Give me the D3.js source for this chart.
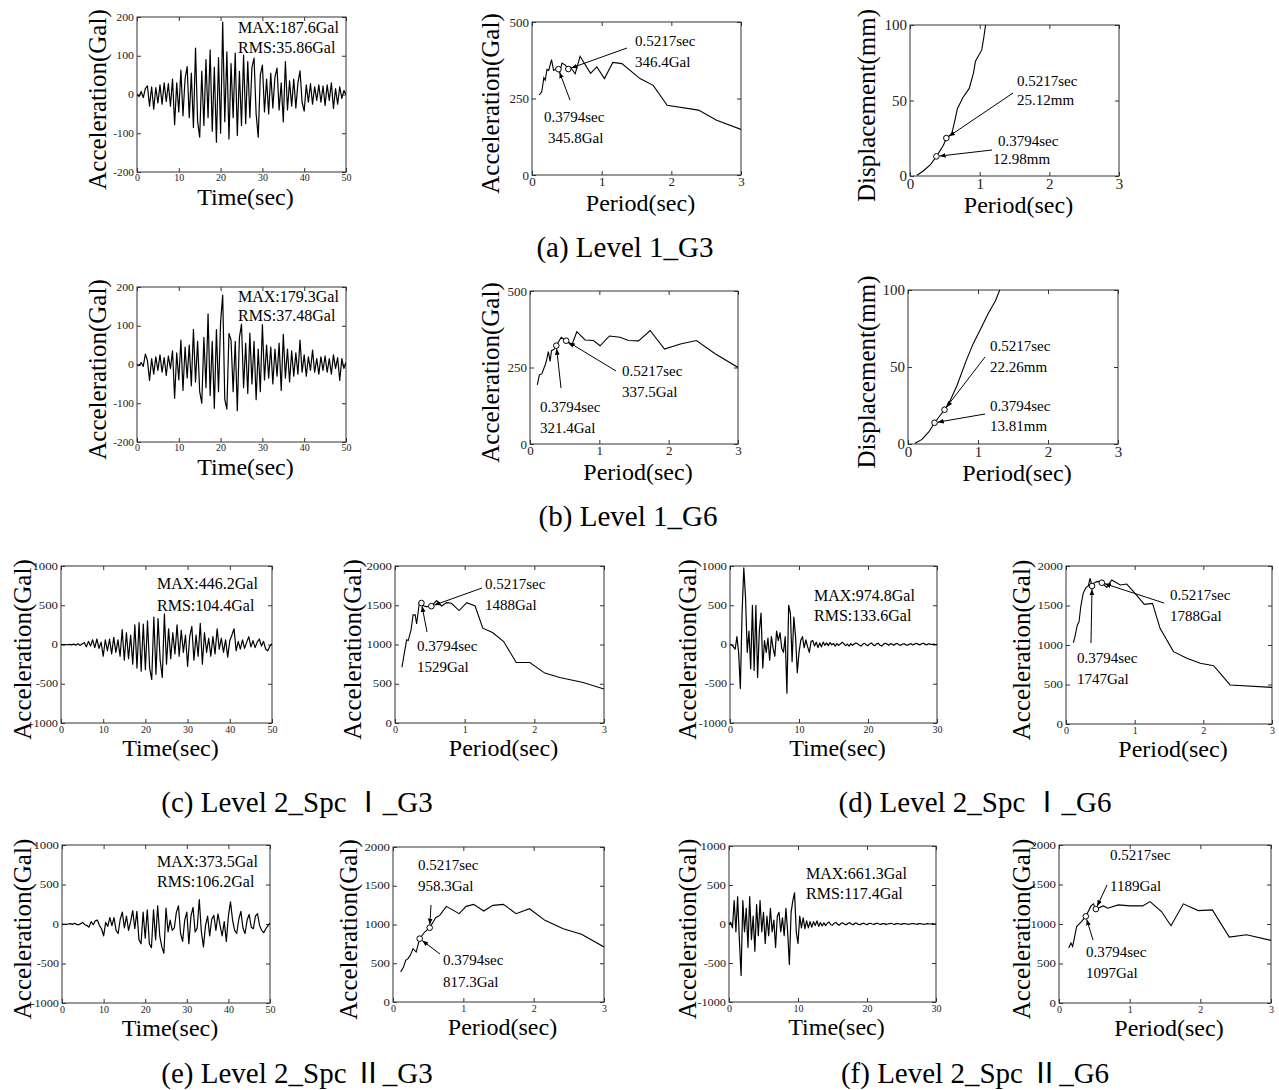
<!DOCTYPE html>
<meta charset="utf-8">
<style>
	body { margin: 0; background: #fff; }
	svg { display: block; font-family: "Liberation Serif", "Times New Roman", serif; }
	.frame { fill: none; stroke: #333; stroke-width: 1; }
	.axis line { stroke: #333; }
	.axis path { display: none; }
	.axis text { fill: #222; }
	.trace { fill: none; stroke: #000; stroke-width: 1.2; stroke-linejoin: round; }
	.spec { fill: none; stroke: #000; stroke-width: 1.1; }
	.pick { fill: #fff; stroke: #000; stroke-width: 1; }
	.lead { stroke: #000; stroke-width: 1; }
</style>
<body>
<script src="https://d3js.org/d3.v7.min.js"></script>
<script>
	// tick labels
	var ticksT50 = [0, 10, 20, 30, 40, 50];
	var ticksT30 = [0, 10, 20, 30];
	var ticksPeriod = [0, 1, 2, 3];
	var ticksAcc200 = [-200, -100, 0, 100, 200];
	var ticksAcc1000 = [-1000, -500, 0, 500, 1000];
	var ticksSa500 = [0, 250, 500];
	var ticksSa2000 = [0, 500, 1000, 1500, 2000];
	var ticksDisp100 = [0, 50, 100];

	// acceleration records (Gal) at a fixed sample step
	var dtA = 0.5;
	var accA = [0,-5,8,-8,15,22,-30,20,-38,18,
		-22,25,-25,30,-18,28,-30,40,-78,30,
		-45,63,-55,40,72,-60,55,-85,120,-70,
		-110,60,-80,90,-60,115,-95,70,-123,95,
		-100,187,-70,110,-115,80,-60,107,-106,60,
		-80,102,-75,85,-60,70,94,-50,-110,50,
		76,-45,40,-50,55,-35,45,68,-40,30,
		-71,85,-40,35,-30,40,-35,30,61,-20,
		-43,25,-20,28,-25,20,-15,25,-20,22,
		-28,25,-15,30,-36,15,-25,20,-10,10,
		0];
	var dtB = 0.5;
	var accB = [0,-3,5,-5,27,10,-41,15,-25,20,
		-15,25,-20,18,-28,22,-10,35,-87,30,
		-40,63,-67,45,-35,50,-55,91,-45,60,
		-70,-100,70,-60,131,-80,60,-113,90,-70,
		110,179,-90,-115,80,63,-70,60,-119,70,
		104,-60,55,-75,81,-50,60,-91,40,-70,
		103,-40,50,-35,45,-50,40,-30,55,-67,
		78,-35,40,-45,35,-30,30,-25,63,-20,
		25,-30,20,-15,37,-20,15,-25,20,-15,
		22,-20,15,-25,25,-10,18,-41,15,-10,
		5];
	var dtC = 0.5;
	var accC = [0,-2,0,-3,2,-5,5,-8,10,-10,
		5,25,-30,40,-20,60,-40,70,-50,30,
		-150,60,-80,70,-120,90,-100,60,-150,190,
		-200,150,-180,120,-250,250,-300,280,-340,260,
		-320,300,-300,-446,350,-380,330,-200,-420,390,
		-250,200,-180,150,-120,250,-150,180,-100,120,
		-280,100,230,-200,120,-150,270,-250,150,-100,
		80,-150,100,-120,200,-60,80,-100,60,-160,
		50,120,200,-80,40,-60,60,-50,30,100,
		-30,50,-40,30,70,-20,40,-60,-80,-20,
		10];
	var dtD = 0.25;
	var accD = [0,-5,-30,-60,100,-100,-560,400,
		975,600,-100,170,-310,500,-330,500,
		-420,170,400,-300,50,-100,80,-200,
		100,-50,-150,170,50,150,-50,-100,
		100,-620,500,400,-220,350,100,-360,
		-100,50,100,-40,60,-30,-100,40,
		50,-20,30,-40,20,-30,30,-10,
		20,-15,25,-5,15,-20,10,-10,
		5,30,10,-15,5,-20,10,-10,
		5,20,10,-10,-20,5,15,-5,
		-15,10,20,-5,-15,10,15,-10,
		-20,5,15,5,-10,10,5,-10,
		10,15,-5,-10,5,10,-5,-10,
		5,10,-5,5,15,5,-5,10,
		15,5,-5,10,5,0,5,0,
		0];
	var dtE = 0.5;
	var accE = [0,-3,-5,0,5,-5,10,-5,-10,5,
		20,-10,-20,-40,30,-10,40,50,-20,-60,
		-150,20,-30,80,-20,80,-80,-120,60,150,
		-50,100,-80,30,170,-60,160,-200,-250,150,
		-180,180,-250,-300,180,-200,230,-150,-290,-370,
		200,-100,50,-80,-50,150,230,-120,-220,50,
		150,-250,100,210,-100,-50,310,-100,-290,-20,
		100,-150,60,110,-80,130,-20,-150,30,-220,
		100,280,50,-80,-120,60,160,-50,-120,50,
		120,-40,-60,100,130,-20,-80,-110,-60,-20,
		10];
	var dtF = 0.25;
	var accF = [0,20,-50,300,-100,350,-200,-660,
		300,-100,200,-300,350,-200,100,-350,
		250,-150,300,-100,150,-250,100,-150,
		200,-100,50,-300,100,150,-100,80,
		-150,200,-100,-520,150,300,400,-100,
		-250,100,-50,80,-60,40,-50,30,
		-40,30,-20,40,-30,20,-25,15,
		-20,10,25,-10,-15,10,20,-5,
		-15,10,15,-5,-10,10,15,0,
		-10,10,10,-5,-10,5,10,0,
		-10,5,10,0,-5,5,10,0,
		-5,5,5,-5,0,5,10,0,
		-5,5,5,0,-5,5,5,0,
		-5,0,5,5,0,-5,5,5,
		0,-5,0,5,0,0,5,0,
		0];

	var peakA = 187.6, rmsA = 35.86;
	var peakB = 179.3, rmsB = 37.48;
	var peakC = 446.2, rmsC = 104.4;
	var peakD = 974.8, rmsD = 133.6;
	var peakE = 373.5, rmsE = 106.2;
	var peakF = 661.3, rmsF = 117.4;

	// response spectra: period (sec) and value
	var perA = [0.1,0.12,0.14,0.17,0.19,0.215,0.24,0.28,0.31,0.36,0.3794,0.40,0.43,0.48,0.5217,0.55,0.62,0.69,0.84,0.93,1.04,1.16,1.29,1.55,1.74,1.94,2.39,2.65,3.0];
	var saA = [262,266,272,318,310,345,342,377,342,348,345.8,337,366,359,346.4,353,331,388,332,353,315,368,364,315,293,228,212,179,149];
	var perAd = [0.1,0.19,0.29,0.3794,0.48,0.5217,0.60,0.645,0.68,0.76,0.85,0.91,0.94,1.03,1.06,1.085,1.1];
	var dispA = [0.5,3.3,7.3,12.98,20.4,25.12,28,37,44.6,52,58,68,76,83.5,92,100,104];
	var perB = [0.106,0.135,0.17,0.22,0.24,0.265,0.29,0.31,0.35,0.3794,0.40,0.45,0.505,0.5217,0.55,0.60,0.675,0.795,0.915,1.01,1.146,1.30,1.42,1.565,1.733,1.94,2.17,2.40,2.67,3.0];
	var saB = [193,226,229,259,275,302,270,305,310,321.4,329,349,340,337.5,332,321,367,340,338,321,353,349,338,337,371,310,327,338,295,250];
	var perBd = [0.1,0.2,0.3,0.3794,0.45,0.5217,0.6,0.7,0.83,0.93,1.03,1.15,1.25,1.31,1.35];
	var dispB = [0.5,3,8,13.81,18,22.26,28,38,54,65,74,85,93,100,104];
	var perC = [0.1,0.134,0.167,0.19,0.23,0.26,0.29,0.31,0.35,0.3794,0.415,0.45,0.5217,0.597,0.67,0.74,0.81,0.92,1.03,1.15,1.26,1.40,1.56,1.74,1.935,2.15,2.365,2.70,3.0];
	var saC = [710,890,1059,1050,1186,1377,1377,1262,1533,1529,1491,1483,1488,1559,1491,1533,1525,1432,1533,1491,1208,1152,1038,771,771,636,580,517,432];
	var perD = [0.107,0.13,0.165,0.19,0.215,0.25,0.29,0.325,0.35,0.3794,0.40,0.45,0.495,0.5217,0.593,0.666,0.79,0.885,1.006,1.14,1.26,1.37,1.565,1.76,1.955,2.15,2.39,3.0];
	var saD = [1030,1105,1253,1295,1485,1654,1726,1747,1844,1747,1780,1802,1802,1788,1730,1823,1760,1772,1654,1515,1527,1211,916,831,768,738,494,464];
	var perE = [0.109,0.15,0.18,0.213,0.246,0.284,0.33,0.3794,0.45,0.5217,0.607,0.664,0.758,0.94,1.04,1.147,1.29,1.42,1.57,1.75,1.94,2.16,2.42,2.68,3.0];
	var saE = [387,452,538,559,602,688,645,817.3,903,958.3,1088,1118,1234,1140,1234,1260,1174,1247,1260,1140,1204,1054,946,873,710];
	var perF = [0.137,0.17,0.193,0.25,0.32,0.3794,0.453,0.486,0.5217,0.627,0.69,0.84,1.005,1.184,1.288,1.45,1.585,1.76,1.97,2.17,2.41,2.655,3.0];
	var saF = [695,758,716,968,1032,1097,1229,1255,1189,1229,1200,1242,1229,1229,1284,1158,977,1255,1170,1179,834,863,792];

	// picked points [period, value]
	var pickA = [[0.3794, 345.8], [0.5217, 346.4]];
	var pickAd = [[0.3794, 12.98], [0.5217, 25.12]];
	var pickB = [[0.3794, 321.4], [0.5217, 337.5]];
	var pickBd = [[0.3794, 13.81], [0.5217, 22.26]];
	var pickC = [[0.3794, 1529], [0.5217, 1488]];
	var pickD = [[0.3794, 1747], [0.5217, 1788]];
	var pickE = [[0.3794, 817.3], [0.5217, 958.3]];
	var pickF = [[0.3794, 1097], [0.5217, 1189]];

	var captions = ["(a) Level 1_G3", "(b) Level 1_G6", "(c) Level 2_Spc \u2160_G3",
		"(d) Level 2_Spc \u2160_G6", "(e) Level 2_Spc \u2161_G3", "(f) Level 2_Spc \u2161_G6"];

	var accTitle = "Acceleration(Gal)", dispTitle = "Displacement(mm)";

	var panels = [
		{ box: [137, 17, 346, 172], x: [0, 50], y: [-200, 200], xt: ticksT50, yt: ticksAcc200, dt: dtA, acc: accA,
			xTitle: "Time(sec)", yTitle: accTitle, yTitleX: 97, font: 10, yW: 5.9, pad: 2, tOff: 33,
			info: [peakA, rmsA], infoAt: [238, 33, 53] },
		{ box: [532, 22, 741, 175], x: [0, 3], y: [0, 500], xt: ticksPeriod, yt: ticksSa500, per: perA, val: saA,
			xTitle: "Period(sec)", yTitle: accTitle, yTitleX: 490, font: 13, pad: 2, tOff: 36, unit: "Gal", picks: pickA,
			notes: [{ k: 1, a: [635, 46], b: [635, 67], from: [627, 48] }, { k: 0, a: [544, 122], b: [548, 143], from: [570, 100] }] },
		{ box: [910, 25, 1119, 176], x: [0, 3], y: [0, 100], xt: ticksPeriod, yt: ticksDisp100, per: perAd, val: dispA,
			xTitle: "Period(sec)", yTitle: dispTitle, yTitleX: 866, font: 15, pad: 2, tOff: 37, unit: "mm", picks: pickAd,
			notes: [{ k: 1, a: [1017, 86], b: [1017, 105], from: [1013, 93] }, { k: 0, a: [998, 146], b: [993, 164], from: [992, 150] }] },

		{ box: [137, 287, 346, 442], x: [0, 50], y: [-200, 200], xt: ticksT50, yt: ticksAcc200, dt: dtB, acc: accB,
			xTitle: "Time(sec)", yTitle: accTitle, yTitleX: 97, font: 10, yW: 5.9, pad: 2, tOff: 33,
			info: [peakB, rmsB], infoAt: [238, 302, 321] },
		{ box: [530, 291, 738, 444], x: [0, 3], y: [0, 500], xt: ticksPeriod, yt: ticksSa500, per: perB, val: saB,
			xTitle: "Period(sec)", yTitle: accTitle, yTitleX: 490, font: 13, pad: 2, tOff: 36, unit: "Gal", picks: pickB,
			notes: [{ k: 1, a: [622, 376], b: [622, 397], from: [616, 371] }, { k: 0, a: [540, 412], b: [540, 433], from: [561, 388] }] },
		{ box: [908, 290, 1118, 444], x: [0, 3], y: [0, 100], xt: ticksPeriod, yt: ticksDisp100, per: perBd, val: dispB,
			xTitle: "Period(sec)", yTitle: dispTitle, yTitleX: 866, font: 15, pad: 2, tOff: 37, unit: "mm", picks: pickBd,
			notes: [{ k: 1, a: [990, 351], b: [990, 372], from: [985, 357] }, { k: 0, a: [990, 411], b: [990, 431], from: [985, 414] }] },

		{ box: [61, 566, 272, 723], x: [0, 50], y: [-1000, 1000], xt: ticksT50, yt: ticksAcc1000, dt: dtC, acc: accC,
			xTitle: "Time(sec)", yTitle: accTitle, yTitleX: 22, font: 10, yW: 6.4, pad: 3, tOff: 33,
			info: [peakC, rmsC], infoAt: [157, 589, 611] },
		{ box: [395, 566, 604, 723], x: [0, 3], y: [0, 2000], xt: ticksPeriod, yt: ticksSa2000, per: perC, val: saC,
			xTitle: "Period(sec)", yTitle: accTitle, yTitleX: 352, font: 10, yW: 6.4, pad: 3, tOff: 33, unit: "Gal", picks: pickC,
			notes: [{ k: 1, a: [485, 589], b: [485, 610], from: [482, 588] }, { k: 0, a: [417, 651], b: [417, 672], from: [427, 632] }] },
		{ box: [730, 566, 937, 723], x: [0, 30], y: [-1000, 1000], xt: ticksT30, yt: ticksAcc1000, dt: dtD, acc: accD,
			xTitle: "Time(sec)", yTitle: accTitle, yTitleX: 687, font: 10, yW: 6.4, pad: 3, tOff: 33,
			info: [peakD, rmsD], infoAt: [814, 601, 621] },
		{ box: [1066, 566, 1272, 724], x: [0, 3], y: [0, 2000], xt: ticksPeriod, yt: ticksSa2000, per: perD, val: saD,
			xTitle: "Period(sec)", yTitle: accTitle, yTitleX: 1021, font: 10, yW: 6.4, pad: 3, tOff: 33, unit: "Gal", picks: pickD,
			notes: [{ k: 1, a: [1170, 600], b: [1170, 621], from: [1164, 603] }, { k: 0, a: [1077, 663], b: [1077, 684], from: [1091, 643] }] },

		{ box: [62, 845, 270, 1003], x: [0, 50], y: [-1000, 1000], xt: ticksT50, yt: ticksAcc1000, dt: dtE, acc: accE,
			xTitle: "Time(sec)", yTitle: accTitle, yTitleX: 22, font: 10, yW: 6.4, pad: 3, tOff: 33,
			info: [peakE, rmsE], infoAt: [157, 867, 887] },
		{ box: [393, 847, 604, 1002], x: [0, 3], y: [0, 2000], xt: ticksPeriod, yt: ticksSa2000, per: perE, val: saE,
			xTitle: "Period(sec)", yTitle: accTitle, yTitleX: 348, font: 10, yW: 6.4, pad: 3, tOff: 33, unit: "Gal", picks: pickE,
			notes: [{ k: 1, a: [418, 870], b: [418, 891], from: [431, 905] }, { k: 0, a: [443, 965], b: [443, 987], from: [440, 954] }] },
		{ box: [729, 846, 936, 1002], x: [0, 30], y: [-1000, 1000], xt: ticksT30, yt: ticksAcc1000, dt: dtF, acc: accF,
			xTitle: "Time(sec)", yTitle: accTitle, yTitleX: 687, font: 10, yW: 6.4, pad: 3, tOff: 33,
			info: [peakF, rmsF], infoAt: [806, 879, 899] },
		{ box: [1059, 845, 1271, 1003], x: [0, 3], y: [0, 2000], xt: ticksPeriod, yt: ticksSa2000, per: perF, val: saF,
			xTitle: "Period(sec)", yTitle: accTitle, yTitleX: 1021, font: 10, yW: 6.4, pad: 3, tOff: 33, unit: "Gal", picks: pickF,
			notes: [{ k: 1, a: [1110, 860], b: [1110, 891], from: [1107, 885] }, { k: 0, a: [1086, 957], b: [1086, 978], from: [1093, 940] }] }
	];

	var captionAt = [[625, 257], [628, 526], [297, 812], [975, 812], [297, 1083], [975, 1083]];

	var svg = d3.select("body").append("svg")
		.attr("width", 1279)
		.attr("height", 1090);

	svg.append("defs").append("marker")
		.attr("id", "arr")
		.attr("viewBox", "0 0 10 10")
		.attr("refX", 10)
		.attr("refY", 5)
		.attr("markerWidth", 6)
		.attr("markerHeight", 6)
		.attr("orient", "auto")
		.append("path")
		.attr("d", "M0,1L10,5L0,9Z")
		.attr("fill", "#000");

	var fmt = function(d) { return String(d); };

	panels.forEach(function(p, i) {
		var b = p.box, w = b[2] - b[0], h = b[3] - b[1];
		var g = svg.append("g").attr("transform", "translate(" + b[0] + "," + b[1] + ")");
		var x = d3.scaleLinear().domain(p.x).range([0, w]);
		var y = d3.scaleLinear().domain(p.y).range([h, 0]);

		var clipId = "clip" + i;
		g.append("clipPath").attr("id", clipId).append("rect").attr("width", w).attr("height", h);

		var gx = g.append("g").attr("class", "axis")
			.attr("transform", "translate(0," + h + ")")
			.call(d3.axisBottom(x).tickValues(p.xt).tickFormat(fmt).tickSizeInner(-4).tickSizeOuter(0).tickPadding(p.pad));
		var gy = g.append("g").attr("class", "axis")
			.call(d3.axisLeft(y).tickValues(p.yt).tickFormat(fmt).tickSizeInner(-4).tickSizeOuter(0).tickPadding(3));
		g.append("g").attr("class", "axis")
			.attr("transform", "translate(" + w + ",0)")
			.call(d3.axisRight(y).tickValues(p.yt).tickFormat("").tickSizeInner(-4).tickSizeOuter(0));
		g.append("g").attr("class", "axis")
			.call(d3.axisTop(x).tickValues(p.xt).tickFormat("").tickSizeInner(-4).tickSizeOuter(0));
		g.selectAll(".axis").attr("font-family", null).attr("font-size", null);
		gx.selectAll("text").style("font-size", p.font + "px");
		gy.selectAll("text").style("font-size", p.font + "px");
		if (p.yW) {
			gy.selectAll("text")
				.attr("textLength", function(d) {
					var s = String(d), n = 0;
					for (var c = 0; c < s.length; c++) n += s[c] === "-" ? 3 : p.yW;
					return n;
				})
				.attr("lengthAdjust", "spacingAndGlyphs");
		}

		g.append("rect").attr("class", "frame").attr("width", w).attr("height", h);

		if (p.acc) {
			var line = d3.line()
				.x(function(d, k) { return x(k * p.dt); })
				.y(function(d) { return y(d); });
			g.append("path").attr("class", "trace").attr("clip-path", "url(#" + clipId + ")")
				.attr("d", line(p.acc));
			g.append("text").attr("x", p.infoAt[0] - b[0]).attr("y", p.infoAt[1] - b[1])
				.style("font-size", "16px").text("MAX:" + p.info[0] + "Gal");
			g.append("text").attr("x", p.infoAt[0] - b[0]).attr("y", p.infoAt[2] - b[1])
				.style("font-size", "16px").text("RMS:" + p.info[1] + "Gal");
		} else {
			var sline = d3.line()
				.x(function(k) { return x(p.per[k]); })
				.y(function(k) { return y(p.val[k]); });
			g.append("path").attr("class", "spec").attr("clip-path", "url(#" + clipId + ")")
				.attr("d", sline(d3.range(p.per.length)));

			g.selectAll(".pick").data(p.picks).enter().append("circle")
				.attr("class", "pick")
				.attr("r", 2.8)
				.attr("cx", function(d) { return x(d[0]); })
				.attr("cy", function(d) { return y(d[1]); });

			p.notes.forEach(function(n) {
				var pk = p.picks[n.k];
				var fx = n.from[0] - b[0], fy = n.from[1] - b[1];
				var tx = x(pk[0]), ty = y(pk[1]);
				var dx = tx - fx, dy = ty - fy, len = Math.sqrt(dx * dx + dy * dy);
				g.append("line").attr("class", "lead")
					.attr("x1", fx).attr("y1", fy)
					.attr("x2", tx - dx / len * 3.2).attr("y2", ty - dy / len * 3.2)
					.attr("marker-end", "url(#arr)");
				g.append("text").attr("x", n.a[0] - b[0]).attr("y", n.a[1] - b[1])
					.style("font-size", "15px").text(pk[0].toFixed(4) + "sec");
				g.append("text").attr("x", n.b[0] - b[0]).attr("y", n.b[1] - b[1])
					.style("font-size", "15px").text(pk[1] + p.unit);
			});
		}

		svg.append("text")
			.attr("x", b[0] + w / 2 + 4)
			.attr("y", b[3] + p.tOff)
			.attr("text-anchor", "middle")
			.style("font-size", "24px")
			.text(p.xTitle);

		svg.append("text")
			.attr("transform", "translate(" + p.yTitleX + "," + (b[1] + h / 2 + 5) + ") rotate(-90)")
			.attr("text-anchor", "middle")
			.attr("dy", "0.35em")
			.style("font-size", "25px")
			.text(p.yTitle);
	});

	svg.selectAll(".caption")
		.data(captions)
		.enter().append("text")
		.attr("class", "caption")
		.attr("x", function(d, i) { return captionAt[i][0]; })
		.attr("y", function(d, i) { return captionAt[i][1]; })
		.attr("text-anchor", "middle")
		.style("font-family", "'Liberation Serif', 'Noto Sans CJK JP', serif")
		.style("font-size", "29px")
		.text(function(d) { return d; });
</script>
